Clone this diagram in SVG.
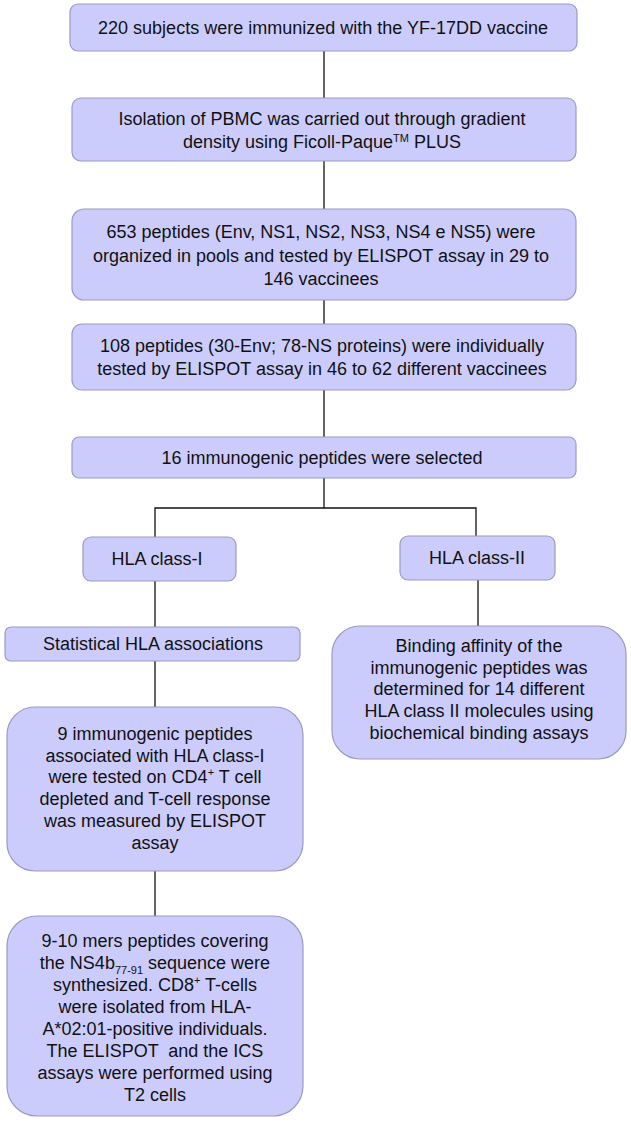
<svg xmlns="http://www.w3.org/2000/svg" width="631" height="1123" viewBox="0 0 631 1123">
<style>
.box{fill:#ccccfc;stroke:#9a9ac4;stroke-width:1.2}
.t{font-family:"Liberation Sans",Arial,sans-serif;font-size:18px;fill:#111;text-anchor:middle}
.sm{font-size:11px}
.c{stroke:#111;stroke-width:1.3;fill:none}
</style>
<rect width="631" height="1123" fill="#fff"/>
<g id="connectors">
<line class="c" x1="324" y1="51" x2="324" y2="98"/>
<line class="c" x1="324" y1="161" x2="324" y2="209"/>
<line class="c" x1="324" y1="300" x2="324" y2="324"/>
<line class="c" x1="324" y1="390" x2="324" y2="437"/>
<polyline class="c" points="324,478 324,508"/>
<polyline class="c" points="155,537 155,508 476,508 476,536"/>
<line class="c" x1="155" y1="581" x2="155" y2="627"/>
<line class="c" x1="155" y1="661" x2="155" y2="707"/>
<line class="c" x1="155" y1="871" x2="155" y2="916"/>
<line class="c" x1="478" y1="580" x2="478" y2="626"/>
</g>
<g id="n1"><rect class="box" x="70" y="4" width="507" height="47" rx="8"/>
<text class="t" x="323" y="34">220 subjects were immunized with the YF-17DD vaccine</text></g>
<g id="n2"><rect class="box" x="72" y="98" width="504" height="63" rx="9"/>
<text class="t" x="322" y="125">Isolation of PBMC was carried out through gradient</text>
<text class="t" x="322" y="148">density using Ficoll-Paque<tspan class="sm" dy="-6">TM</tspan><tspan dy="6"> PLUS</tspan></text></g>
<g id="n3"><rect class="box" x="72" y="209" width="504" height="91" rx="12"/>
<text class="t" x="321" y="238">653 peptides (Env, NS1, NS2, NS3, NS4 e NS5) were</text>
<text class="t" x="321" y="261.5">organized in pools and tested by ELISPOT assay in 29 to</text>
<text class="t" x="321" y="285">146 vaccinees</text></g>
<g id="n4"><rect class="box" x="72" y="324" width="504" height="66" rx="10"/>
<text class="t" x="322" y="352">108 peptides (30-Env; 78-NS proteins) were individually</text>
<text class="t" x="322" y="375">tested by ELISPOT assay in 46 to 62 different vaccinees</text></g>
<g id="n5"><rect class="box" x="72" y="437" width="504" height="41" rx="7"/>
<text class="t" x="322" y="464">16 immunogenic peptides were selected</text></g>
<g id="n6"><rect class="box" x="83" y="537" width="153" height="44" rx="8"/>
<text class="t" x="157" y="565">HLA class-I</text></g>
<g id="n7"><rect class="box" x="400" y="536" width="155" height="44" rx="8"/>
<text class="t" x="477" y="564">HLA class-II</text></g>
<g id="n8"><rect class="box" x="5" y="627" width="295" height="34" rx="6"/>
<text class="t" x="153" y="650">Statistical HLA associations</text></g>
<g id="n9"><rect class="box" x="7" y="707" width="296" height="164" rx="28"/>
<text class="t" x="155" y="740">9 immunogenic peptides</text>
<text class="t" x="155" y="761.7">associated with HLA class-I</text>
<text class="t" x="155" y="783.4">were tested on CD4<tspan class="sm" dy="-7">+</tspan><tspan dy="7"> T cell</tspan></text>
<text class="t" x="155" y="805.1">depleted and T-cell response</text>
<text class="t" x="155" y="826.8">was measured by ELISPOT</text>
<text class="t" x="155" y="848.5">assay</text></g>
<g id="n10"><rect class="box" x="332" y="626" width="294" height="133" rx="28"/>
<text class="t" x="479" y="652">Binding affinity of the</text>
<text class="t" x="479" y="673.5">immunogenic peptides was</text>
<text class="t" x="479" y="695">determined for 14 different</text>
<text class="t" x="479" y="717">HLA class II molecules using</text>
<text class="t" x="479" y="738.5">biochemical binding assays</text></g>
<g id="n11"><rect class="box" x="7" y="916" width="296" height="200" rx="30"/>
<text class="t" x="155" y="947">9-10 mers peptides covering</text>
<text class="t" x="155" y="969">the NS4b<tspan class="sm" dy="5">77-91</tspan><tspan dy="-5"> sequence were</tspan></text>
<text class="t" x="155" y="991">synthesized. CD8<tspan class="sm" dy="-7">+</tspan><tspan dy="7"> T-cells</tspan></text>
<text class="t" x="155" y="1013">were isolated from HLA-</text>
<text class="t" x="155" y="1035">A*02:01-positive individuals.</text>
<text class="t" x="155" y="1057" xml:space="preserve">The ELISPOT  and the ICS</text>
<text class="t" x="155" y="1079">assays were performed using</text>
<text class="t" x="155" y="1101">T2 cells</text></g>
</svg>
